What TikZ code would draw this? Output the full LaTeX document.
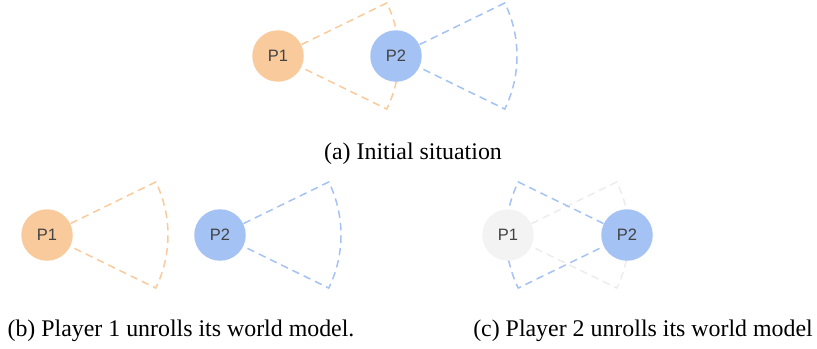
\documentclass[tikz,border=0pt]{standalone}
\usepackage{fontspec}
\setmainfont{Liberation Serif}
\newfontfamily\labelfont{Liberation Sans}
\usetikzlibrary{calc,backgrounds}

\definecolor{porange}{RGB}{249,203,156}
\definecolor{pblue}{RGB}{164,194,244}
\definecolor{pgray}{RGB}{243,243,243}
\definecolor{vgray}{RGB}{236,236,236}
\definecolor{labelgray}{RGB}{67,67,67}

\begin{document}
\begin{tikzpicture}[x=0.4pt, y=0.4pt,
  player/.style={circle, minimum size=20.6pt, inner sep=0pt, text=labelgray,
    font=\labelfont\fontsize{6.6}{8}\selectfont},
  view/.style={dash pattern=on 3pt off 2pt, line width=0.6pt},
  caption/.style={anchor=base, font=\fontsize{9.55}{11}\selectfont}]
\useasboundingbox (0,0) rectangle (817,348);

%Draw Players
\node[player, fill=porange] (P1a) at (278,292) {P1};
\node[player, fill=pblue] (P2a) at (396,292) {P2};
\node[player, fill=porange] (P1b) at (47,113) {P1};
\node[player, fill=pblue] (P2b) at (220,113) {P2};
\node[player, fill=pgray] (P1c) at (508,113) {P1};
\node[player, fill=pblue] (P2c) at (627,113) {P2};

%Draw View Sectors
\begin{scope}[on background layer]
\draw[view, porange] (P1a.26) -- ([shift={(26:48.4pt)}]P1a.center) arc[start angle=26, end angle=-26, radius=48.4pt] -- (P1a.-26);
\draw[view, pblue] (P2a.26) -- ([shift={(26:48.4pt)}]P2a.center) arc[start angle=26, end angle=-26, radius=48.4pt] -- (P2a.-26);

\draw[view, porange] (P1b.26) -- ([shift={(26:48.4pt)}]P1b.center) arc[start angle=26, end angle=-26, radius=48.4pt] -- (P1b.-26);
\draw[view, pblue] (P2b.26) -- ([shift={(26:48.4pt)}]P2b.center) arc[start angle=26, end angle=-26, radius=48.4pt] -- (P2b.-26);

\draw[view, vgray] (P1c.26) -- ([shift={(26:48.4pt)}]P1c.center) arc[start angle=26, end angle=-26, radius=48.4pt] -- (P1c.-26);
\draw[view, pblue] (P2c.154) -- ([shift={(154:48.4pt)}]P2c.center) arc[start angle=154, end angle=206, radius=48.4pt] -- (P2c.206);
\end{scope}

%Draw Captions
\node[caption] (capa) at (413,189) {(a) Initial situation};
\node[caption] (capb) at (181,12) {(b) Player 1 unrolls its world model.};
\node[caption] (capc) at (643,12) {(c) Player 2 unrolls its world model};

\end{tikzpicture}
\end{document}
